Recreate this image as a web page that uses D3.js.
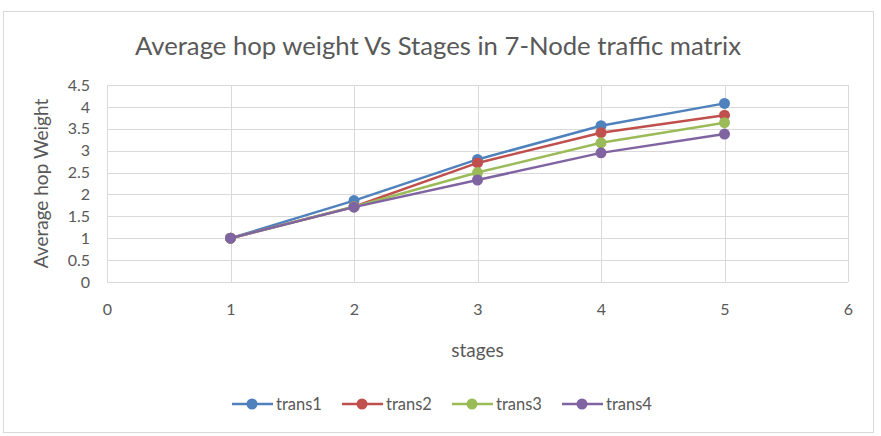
<!DOCTYPE html>
<html>
<head>
<meta charset="utf-8">
<script src="https://cdn.jsdelivr.net/npm/d3@7"></script>
<style>
  body { margin: 0; background: #fff; }
  svg text { font-family: "Lato", "Liberation Sans", sans-serif; fill: #595959; }
</style>
</head>
<body>
<div id="chart"></div>
<script>
// chart data
const stages = [1, 2, 3, 4, 5];
const trans1 = [1, 1.86, 2.80, 3.57, 4.08];
const trans2 = [1, 1.72, 2.72, 3.41, 3.81];
const trans3 = [1, 1.72, 2.50, 3.18, 3.64];
const trans4 = [1, 1.71, 2.33, 2.95, 3.38];
const seriesNames = ["trans1", "trans2", "trans3", "trans4"];
const colors = ["#4f81bd", "#c0504d", "#9bbb59", "#8064a2"];
const xTicks = [0, 1, 2, 3, 4, 5, 6];
const yTicks = [0, 0.5, 1, 1.5, 2, 2.5, 3, 3.5, 4, 4.5];

const series = [trans1, trans2, trans3, trans4].map((vals, i) => ({
    name: seriesNames[i],
    color: colors[i],
    points: stages.map((s, j) => ({ x: s, y: vals[j] }))
}));

const width = 881, height = 436;
const svg = d3.select("#chart").append("svg")
    .attr("width", width)
    .attr("height", height);

// outer chart border
svg.append("rect")
    .attr("x", 3.5).attr("y", 11.5)
    .attr("width", 870).attr("height", 421)
    .attr("fill", "#fff")
    .attr("stroke", "#d9d9d9");

// title
svg.append("text")
    .attr("x", 438)
    .attr("y", 55)
    .attr("text-anchor", "middle")
    .style("font-size", "25.7px")
    .text("Average hop weight Vs Stages in 7-Node traffic matrix");

const x = d3.scaleLinear().domain([0, 6]).range([107, 848]);
const y = d3.scaleLinear().domain([0, 4.5]).range([282, 85]);

// gridlines
svg.append("g").selectAll("line")
    .data(yTicks)
    .join("line")
    .attr("x1", x(0)).attr("x2", x(6))
    .attr("y1", d => Math.round(y(d)) + 0.5).attr("y2", d => Math.round(y(d)) + 0.5)
    .attr("stroke", "#d9d9d9");

svg.append("g").selectAll("line")
    .data(xTicks)
    .join("line")
    .attr("x1", d => Math.round(x(d)) + 0.5).attr("x2", d => Math.round(x(d)) + 0.5)
    .attr("y1", y(0)).attr("y2", y(4.5))
    .attr("stroke", "#d9d9d9");

// axes (labels only)
const xAxis = svg.append("g")
    .attr("transform", `translate(0,${y(0)})`)
    .call(d3.axisBottom(x).tickValues(xTicks).tickSize(0).tickPadding(22).tickFormat(d3.format("d")));
const yAxis = svg.append("g")
    .attr("transform", `translate(${x(0)},0)`)
    .call(d3.axisLeft(y).tickValues(yTicks).tickSize(0).tickPadding(17).tickFormat(d => String(d)));
[xAxis, yAxis].forEach(a => {
    a.select(".domain").remove();
    a.selectAll("text").style("font-size", "16px").style("font-family", null).attr("fill", "#595959");
});

// axis titles
svg.append("text")
    .attr("x", (x(0) + x(6)) / 2)
    .attr("y", 357)
    .attr("text-anchor", "middle")
    .style("font-size", "19px")
    .text("stages");

svg.append("text")
    .attr("transform", `translate(48,${(y(0) + y(4.5)) / 2}) rotate(-90)`)
    .attr("text-anchor", "middle")
    .style("font-size", "19px")
    .text("Average hop Weight");

// lines and markers
const line = d3.line().x(d => x(d.x)).y(d => y(d.y));
const g = svg.append("g");
series.forEach(s => {
    g.append("path")
        .datum(s.points)
        .attr("d", line)
        .attr("fill", "none")
        .attr("stroke", s.color)
        .attr("stroke-width", 2.5);
    g.selectAll(null)
        .data(s.points)
        .join("circle")
        .attr("cx", d => x(d.x))
        .attr("cy", d => y(d.y))
        .attr("r", 5.5)
        .attr("fill", s.color);
});

// legend
const legendX = [232, 342, 452, 562];
const legend = svg.append("g").attr("transform", "translate(0,404)");
series.forEach((s, i) => {
    const lg = legend.append("g").attr("transform", `translate(${legendX[i]},0)`);
    lg.append("line").attr("x1", 0).attr("x2", 41).attr("stroke", s.color).attr("stroke-width", 2.5);
    lg.append("circle").attr("cx", 20).attr("r", 5.5).attr("fill", s.color);
    lg.append("text").attr("x", 44).attr("dy", "0.35em").style("font-size", "16.5px").text(s.name);
});
</script>
</body>
</html>
